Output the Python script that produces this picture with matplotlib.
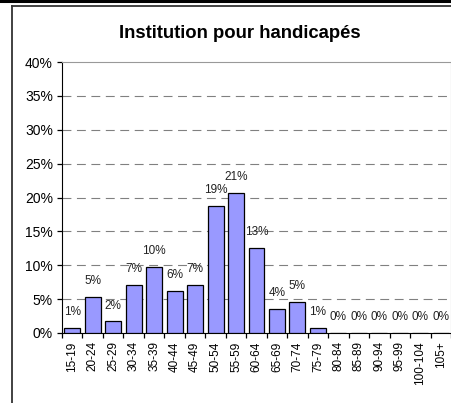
import matplotlib.pyplot as plt
from matplotlib.lines import Line2D
from matplotlib.ticker import FixedLocator

plt.rcParams['font.family'] = ['Liberation Sans', 'DejaVu Sans']

categories = ['15-19', '20-24', '25-29', '30-34', '35-39', '40-44', '45-49',
              '50-54', '55-59', '60-64', '65-69', '70-74', '75-79', '80-84',
              '85-89', '90-94', '95-99', '100-104', '105+']
values = [0.7, 5.3, 1.7, 7.1, 9.8, 6.2, 7.1, 18.8, 20.6, 12.6, 3.6, 4.6, 0.7,
          0, 0, 0, 0, 0, 0]
yticks = [0, 5, 10, 15, 20, 25, 30, 35, 40]
title = 'Institution pour handicapés'

W, H = 452, 403
fig = plt.figure(figsize=(W / 100, H / 100), dpi=100)

# outer frame of the sheet
fig.add_artist(Line2D([0, 1], [1 - 1 / H, 1 - 1 / H], color='black', lw=2.2))
fig.add_artist(Line2D([11.5 / W, 11.5 / W], [0, 1 - 6 / H], color='#333333', lw=1.3))
fig.add_artist(Line2D([11.5 / W, 1], [1 - 6 / H, 1 - 6 / H], color='#333333', lw=1.3))

ax = fig.add_axes([62 / W, 1 - 333 / H, (451 - 62) / W, (333 - 62) / H])

x = list(range(len(categories)))
ax.bar(x, values, width=0.78, color='#9999FF', edgecolor='black', linewidth=0.9, zorder=3)

for xi, v in zip(x, values):
    ax.annotate(f'{round(v)}%', (xi, v), xytext=(0, 11.5), textcoords='offset points',
                ha='center', va='center', fontsize=8.5, color='#222222')

ax.set_xlim(-0.5, len(categories) - 0.5)
ax.set_ylim(0, 40)
ax.set_yticks(yticks)
ax.set_yticklabels([f'{t}%' for t in yticks], fontsize=10)
ax.set_xticks(x)
ax.set_xticklabels(categories, rotation=90, fontsize=8.5)
ax.tick_params(axis='x', length=0, pad=6)
ax.xaxis.set_minor_locator(FixedLocator([i - 0.5 for i in range(len(categories) + 1)]))
ax.tick_params(axis='x', which='minor', length=3.5, width=0.9, direction='out')
ax.tick_params(axis='y', length=3.5, width=0.9, direction='out', pad=3)

for t in yticks[1:-1]:
    ax.axhline(t, color='#808080', lw=0.8, ls=(0, (8, 5)), zorder=1)

ax.spines['left'].set_color('black')
ax.spines['bottom'].set_color('black')
ax.spines['top'].set_color('#999999')
ax.spines['right'].set_color('#999999')

fig.text(240 / W, 1 - 33 / H, title, ha='center', va='center', fontsize=13.3,
         fontweight='bold')

fig.savefig('out.png', dpi=100)
